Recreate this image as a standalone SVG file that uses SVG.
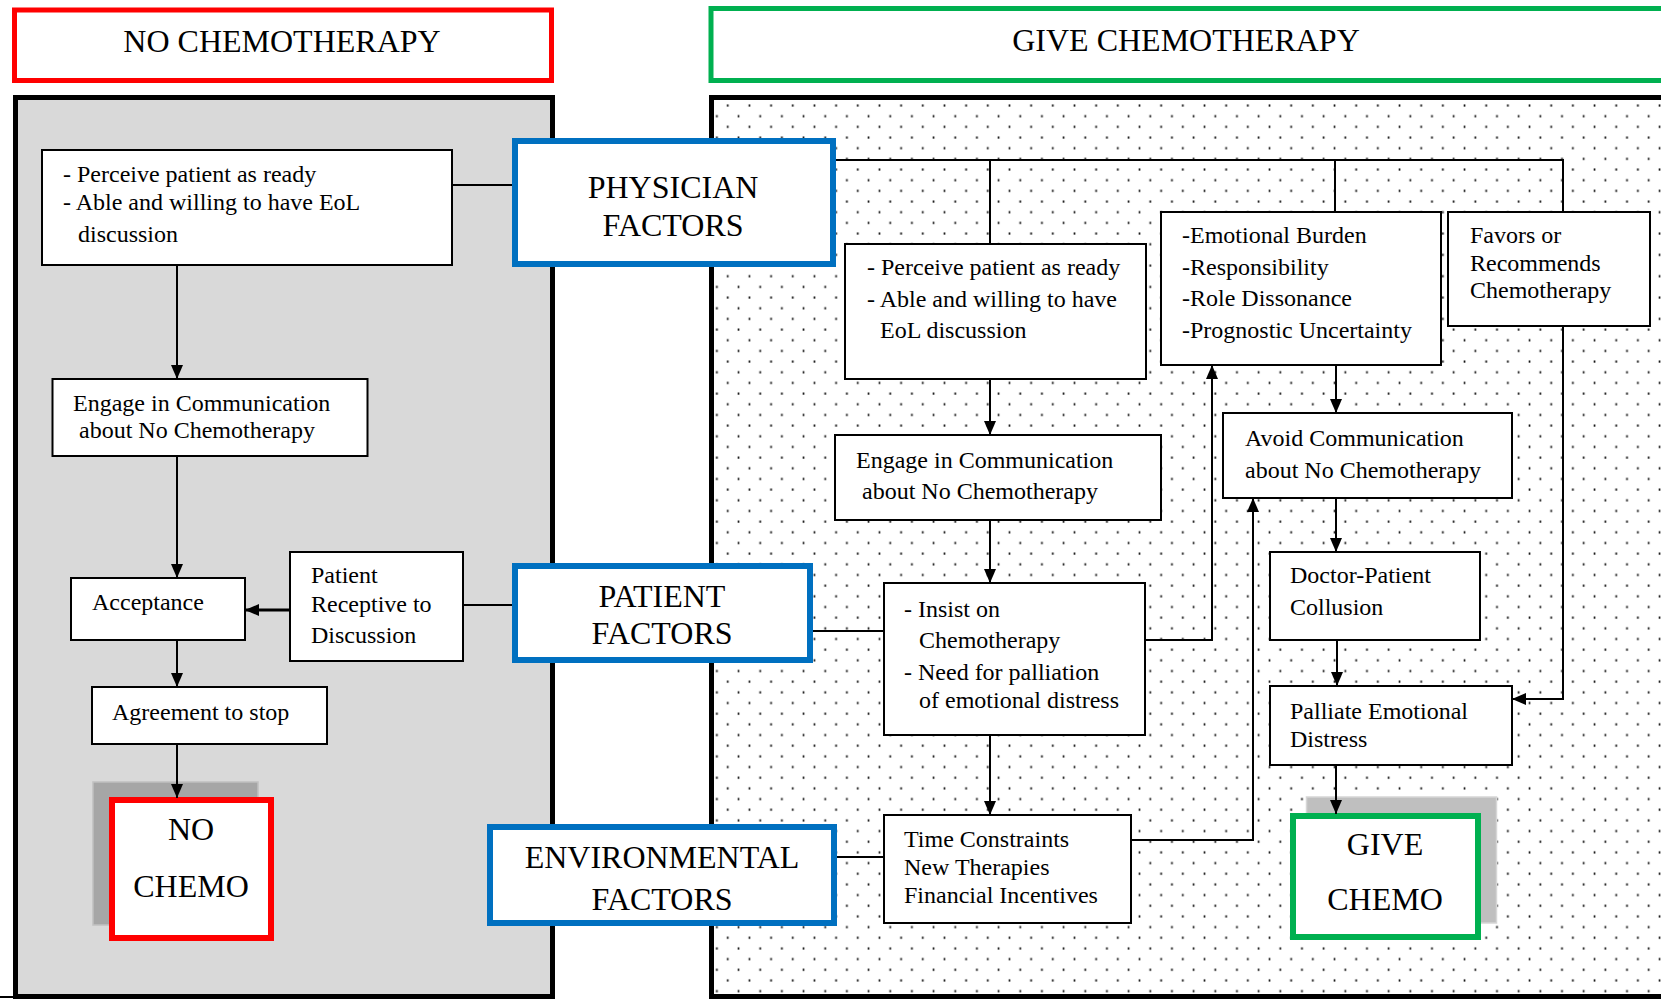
<svg xmlns="http://www.w3.org/2000/svg" width="1661" height="999" viewBox="0 0 1661 999">
<defs>
<pattern id="dots" patternUnits="userSpaceOnUse" x="722.3" y="526.9" width="21.67" height="21.34">
<rect x="4.6" y="4.3" width="1.7" height="2.2" fill="#111"/>
<rect x="15.4" y="15" width="1.7" height="2.2" fill="#111"/>
</pattern>
<marker id="arr" markerUnits="userSpaceOnUse" markerWidth="14" markerHeight="12" refX="14" refY="6" orient="auto">
<path d="M0,0 L14,6 L0,12 z" fill="#000"/>
</marker>
</defs>
<style>
.box{fill:#fff;stroke:#000;stroke-width:2}
.t{font-family:"Liberation Serif","Times New Roman",serif;font-size:24px;fill:#000}
.h{font-family:"Liberation Serif","Times New Roman",serif;font-size:32px;fill:#000;text-anchor:middle}
.blue{fill:#fff;stroke:#0070c0;stroke-width:6}
.c{fill:none;stroke:#000;stroke-width:2}
.a{fill:none;stroke:#000;stroke-width:2;marker-end:url(#arr)}
</style>
<rect width="1661" height="999" fill="#fff"/>

<g id="panel-no">
<rect x="15.5" y="97.5" width="537" height="899" fill="#d9d9d9" stroke="#000" stroke-width="5"/>
<line x1="0" y1="997" x2="15" y2="997" stroke="#000" stroke-width="2"/>
</g>
<g id="panel-give">
<rect x="711.5" y="97.5" width="1000" height="899" fill="#fff" stroke="#000" stroke-width="5"/>
<rect x="714" y="100" width="950" height="899" fill="url(#dots)"/>
</g>

<g id="title-no">
<rect x="14.5" y="10" width="537" height="70.5" fill="#fff" stroke="#ff0000" stroke-width="5"/>
<text class="h" x="282" y="52">NO CHEMOTHERAPY</text>
</g>
<g id="title-give">
<rect x="711" y="8.5" width="1000" height="72" fill="#fff" stroke="#00b050" stroke-width="5"/>
<text class="h" x="1186" y="51">GIVE CHEMOTHERAPY</text>
</g>

<g id="no-chemo">
<rect x="93" y="782" width="165" height="143" fill="#a6a6a6" stroke="#c0c0c0" stroke-width="1.5"/>
<rect x="112" y="800" width="159" height="138" fill="#fff" stroke="#ff0000" stroke-width="6"/>
<text class="h" x="191" y="840">NO</text>
<text class="h" x="191" y="897">CHEMO</text>
</g>
<g id="give-chemo">
<rect x="1306.5" y="797" width="190" height="126" fill="#bfbfbf" stroke="#d6d6d6" stroke-width="1.5"/>
<rect x="1293" y="816" width="185" height="121" fill="#fff" stroke="#00b050" stroke-width="6"/>
<text class="h" x="1385" y="855">GIVE</text>
<text class="h" x="1385" y="910">CHEMO</text>
</g>

<g id="connectors">
<line class="c" x1="452" y1="185" x2="512" y2="185"/>
<line class="a" x1="177" y1="265" x2="177" y2="379"/>
<line class="a" x1="177" y1="456" x2="177" y2="578"/>
<line class="c" x1="463" y1="605" x2="512" y2="605"/>
<line x1="290" y1="610" x2="245" y2="610" stroke="#000" stroke-width="3" marker-end="url(#arr)"/>
<line class="a" x1="177" y1="640" x2="177" y2="687"/>
<line class="a" x1="177" y1="744" x2="177" y2="798"/>
<line class="c" x1="836" y1="160" x2="1564" y2="160"/>
<line class="c" x1="990" y1="160" x2="990" y2="244"/>
<line class="c" x1="1335" y1="160" x2="1335" y2="212"/>
<line class="c" x1="1563" y1="160" x2="1563" y2="212"/>
<line class="a" x1="990" y1="379" x2="990" y2="435"/>
<line class="a" x1="990" y1="520" x2="990" y2="583"/>
<line class="c" x1="813" y1="631" x2="884" y2="631"/>
<polyline class="a" points="1145,640 1212,640 1212,365"/>
<line class="a" x1="1336" y1="365" x2="1336" y2="413"/>
<line class="a" x1="1336" y1="498" x2="1336" y2="552"/>
<line class="a" x1="1337" y1="640" x2="1337" y2="686"/>
<polyline class="a" points="1563,326 1563,699 1512,699"/>
<line class="a" x1="990" y1="735" x2="990" y2="815"/>
<line class="c" x1="837" y1="857" x2="884" y2="857"/>
<polyline class="a" points="1131,840 1253,840 1253,498"/>
<line class="a" x1="1336" y1="765" x2="1336" y2="814"/>
</g>

<g id="physician-factors">
<rect class="blue" x="515" y="141" width="318" height="123"/>
<text class="h" x="673" y="198">PHYSICIAN</text>
<text class="h" x="673" y="236">FACTORS</text>
</g>
<g id="patient-factors">
<rect class="blue" x="515" y="566" width="295" height="94"/>
<text class="h" x="662" y="607">PATIENT</text>
<text class="h" x="662" y="644">FACTORS</text>
</g>
<g id="environmental-factors">
<rect class="blue" x="490" y="827" width="344" height="96"/>
<text class="h" x="662" y="868">ENVIRONMENTAL</text>
<text class="h" x="662" y="910">FACTORS</text>
</g>

<g id="l-perceive">
<rect class="box" x="42" y="150" width="410" height="115"/>
<text class="t" x="63" y="182">- Perceive patient as ready</text>
<text class="t" x="63" y="210">- Able and willing to have EoL</text>
<text class="t" x="78" y="242">discussion</text>
</g>
<g id="l-engage">
<rect class="box" x="52.5" y="379" width="315" height="77"/>
<text class="t" x="73" y="411">Engage in Communication</text>
<text class="t" x="79" y="438">about No Chemotherapy</text>
</g>
<g id="l-acceptance">
<rect class="box" x="71" y="578" width="174" height="62"/>
<text class="t" x="92" y="610">Acceptance</text>
</g>
<g id="l-receptive">
<rect class="box" x="290" y="552" width="173" height="109"/>
<text class="t" x="311" y="583">Patient</text>
<text class="t" x="311" y="612">Receptive to</text>
<text class="t" x="311" y="643">Discussion</text>
</g>
<g id="l-agreement">
<rect class="box" x="92" y="687" width="235" height="57"/>
<text class="t" x="112" y="720">Agreement to stop</text>
</g>

<g id="r-perceive">
<rect class="box" x="845" y="244" width="301" height="135"/>
<text class="t" x="867" y="275">- Perceive patient as ready</text>
<text class="t" x="867" y="307">- Able and willing to have</text>
<text class="t" x="880" y="338">EoL discussion</text>
</g>
<g id="r-emotional">
<rect class="box" x="1161" y="212" width="280" height="153"/>
<text class="t" x="1182" y="243">-Emotional Burden</text>
<text class="t" x="1182" y="275">-Responsibility</text>
<text class="t" x="1182" y="306">-Role Dissonance</text>
<text class="t" x="1182" y="338">-Prognostic Uncertainty</text>
</g>
<g id="r-favors">
<rect class="box" x="1448" y="212" width="202" height="114"/>
<text class="t" x="1470" y="243">Favors or</text>
<text class="t" x="1470" y="271">Recommends</text>
<text class="t" x="1470" y="298">Chemotherapy</text>
</g>
<g id="r-engage">
<rect class="box" x="835" y="435" width="326" height="85"/>
<text class="t" x="856" y="468">Engage in Communication</text>
<text class="t" x="862" y="499">about No Chemotherapy</text>
</g>
<g id="r-avoid">
<rect class="box" x="1223" y="413" width="289" height="85"/>
<text class="t" x="1245" y="446">Avoid Communication</text>
<text class="t" x="1245" y="478">about No Chemotherapy</text>
</g>
<g id="r-insist">
<rect class="box" x="884" y="583" width="261" height="152"/>
<text class="t" x="904" y="617">- Insist on</text>
<text class="t" x="919" y="648">Chemotherapy</text>
<text class="t" x="904" y="680">- Need for palliation</text>
<text class="t" x="919" y="708">of emotional distress</text>
</g>
<g id="r-collusion">
<rect class="box" x="1270" y="552" width="210" height="88"/>
<text class="t" x="1290" y="583">Doctor-Patient</text>
<text class="t" x="1290" y="615">Collusion</text>
</g>
<g id="r-palliate">
<rect class="box" x="1270" y="686" width="242" height="79"/>
<text class="t" x="1290" y="719">Palliate Emotional</text>
<text class="t" x="1290" y="747">Distress</text>
</g>
<g id="r-time">
<rect class="box" x="884" y="815" width="247" height="108"/>
<text class="t" x="904" y="847">Time Constraints</text>
<text class="t" x="904" y="875">New Therapies</text>
<text class="t" x="904" y="903">Financial Incentives</text>
</g>
</svg>
